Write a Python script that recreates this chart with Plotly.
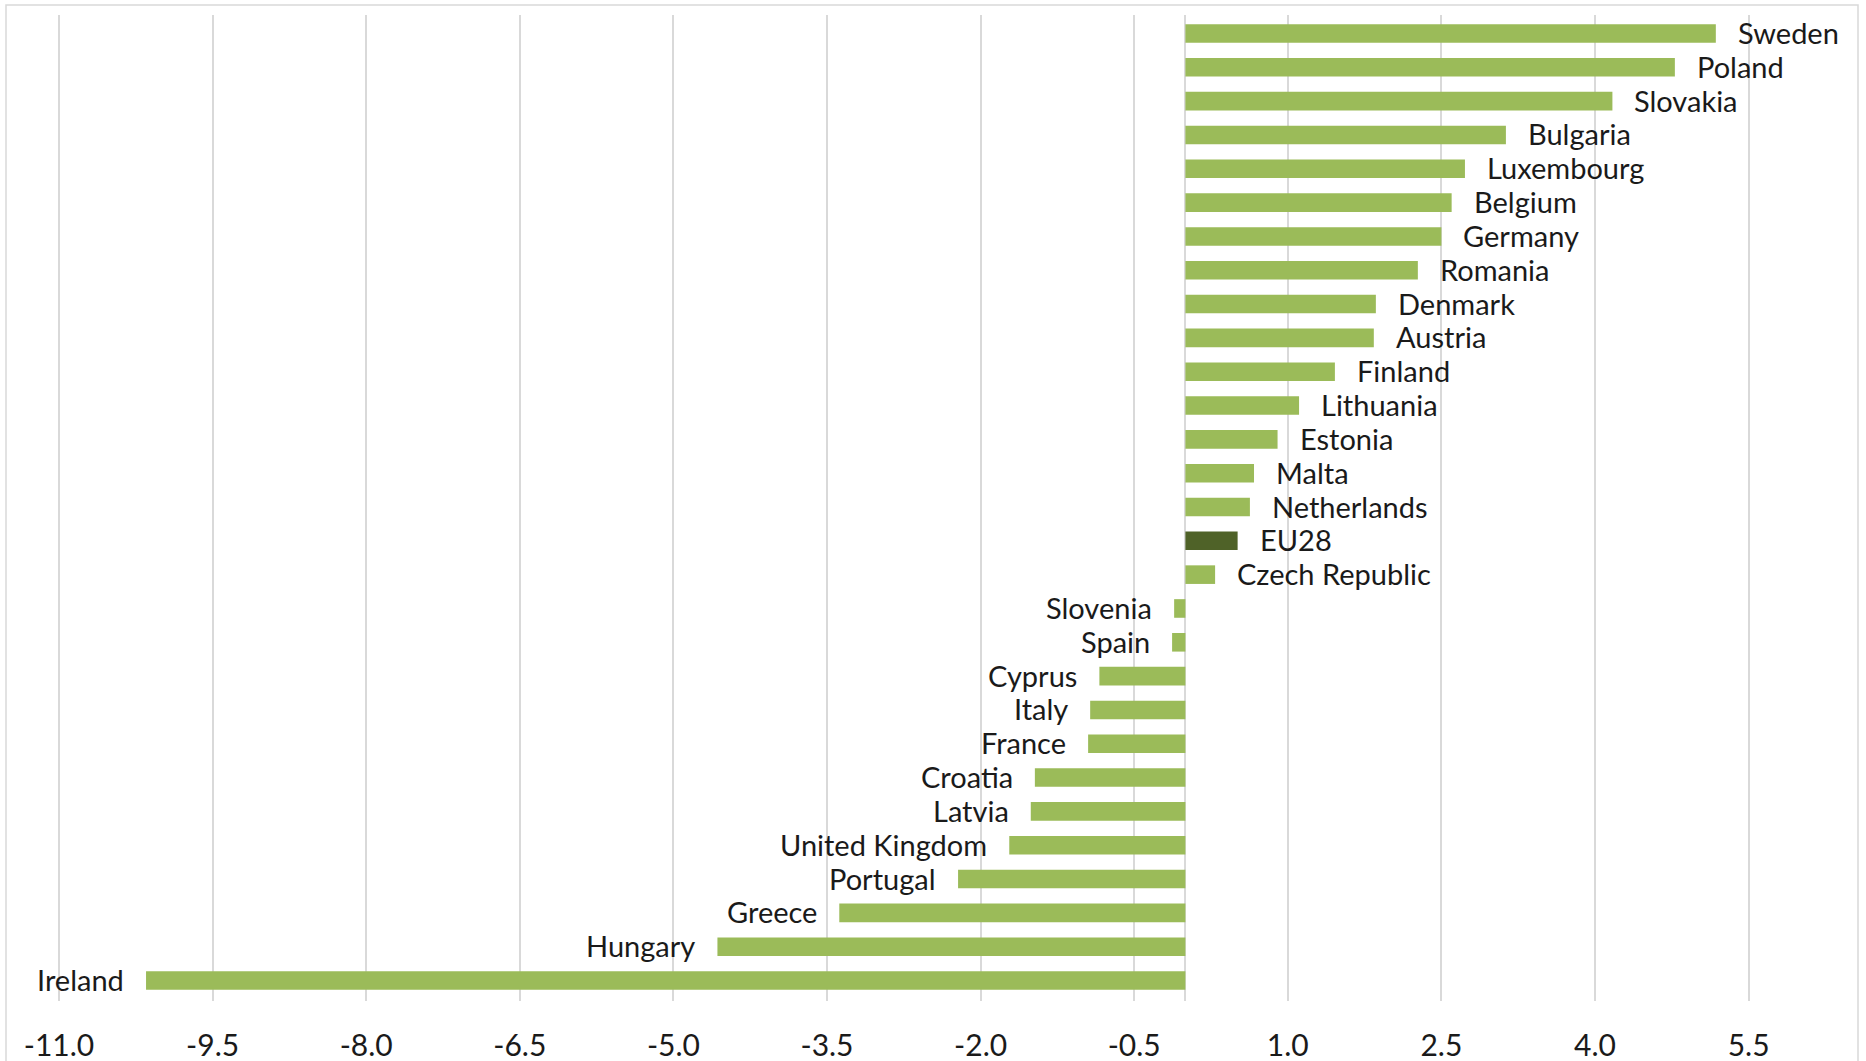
import plotly.graph_objects as go

countries = ["Sweden", "Poland", "Slovakia", "Bulgaria", "Luxembourg", "Belgium", "Germany",
             "Romania", "Denmark", "Austria", "Finland", "Lithuania", "Estonia", "Malta",
             "Netherlands", "EU28", "Czech Republic", "Slovenia", "Spain", "Cyprus", "Italy",
             "France", "Croatia", "Latvia", "United Kingdom", "Portugal", "Greece", "Hungary",
             "Ireland"]
values = [5.18, 4.78, 4.17, 3.13, 2.73, 2.60, 2.50,
          2.27, 1.86, 1.84, 1.46, 1.11, 0.90, 0.67,
          0.63, 0.51, 0.29, -0.11, -0.13, -0.84, -0.93,
          -0.95, -1.47, -1.51, -1.72, -2.22, -3.38, -4.57,
          -10.15]
tick_vals = [-11.0, -9.5, -8.0, -6.5, -5.0, -3.5, -2.0, -0.5, 1.0, 2.5, 4.0, 5.5]
tick_text = ["-11.0", "-9.5", "-8.0", "-6.5", "-5.0", "-3.5", "-2.0", "-0.5", "1.0", "2.5", "4.0", "5.5"]

GREEN = "#9BBB59"
DARK = "#4F6228"
colors = [DARK if c == "EU28" else GREEN for c in countries]

fig = go.Figure()
fig.add_trace(go.Bar(
    x=values, y=countries, orientation="h",
    marker=dict(color=colors, line=dict(width=0)),
    hoverinfo="skip",
))

annotations = []
for c, v in zip(countries, values):
    annotations.append(dict(
        x=v, y=c, xref="x", yref="y", text=c, showarrow=False,
        xanchor="left" if v >= 0 else "right",
        xshift=20 if v >= 0 else -20,
        yshift=1,
        yanchor="middle",
        font=dict(family="Lato, sans-serif", size=29, color="#1a1a1a"),
    ))

W, H = 1866, 1061
SCALE = 102.4  # px per unit
ML, MT, MB = 56, 15, 60
plot_w = W - ML
x_min = -11.0 - (59 - ML) / SCALE
x_max = x_min + plot_w / SCALE

fig.update_layout(
    width=W, height=H,
    margin=dict(l=ML, r=0, t=MT, b=MB, pad=0),
    paper_bgcolor="white", plot_bgcolor="white",
    showlegend=False,
    bargap=0.45,
    annotations=annotations,
    xaxis=dict(
        range=[x_min, x_max],
        tickvals=tick_vals, ticktext=tick_text,
        showgrid=True, gridcolor="#d9d9d9", gridwidth=1.5,
        zeroline=True, zerolinecolor="#d9d9d9", zerolinewidth=1.5,
        showline=False, ticks="",
        tickfont=dict(family="Lato, sans-serif", size=30, color="#1a1a1a"),
        ticklabelstandoff=24,
        fixedrange=True,
    ),
    yaxis=dict(
        autorange="reversed",
        showticklabels=False, showgrid=False, zeroline=False, showline=False, ticks="",
        fixedrange=True,
    ),
    shapes=[dict(
        type="rect", xref="paper", yref="paper",
        x0=(6 - ML) / plot_w, x1=(1858 - ML) / plot_w,
        y0=(H - MB - 1070) / (H - MT - MB), y1=(H - MB - 5) / (H - MT - MB),
        line=dict(color="#d9d9d9", width=1.5), fillcolor="rgba(0,0,0,0)", layer="below",
    )],
)

fig.write_html("out.html", config={"displayModeBar": False})
